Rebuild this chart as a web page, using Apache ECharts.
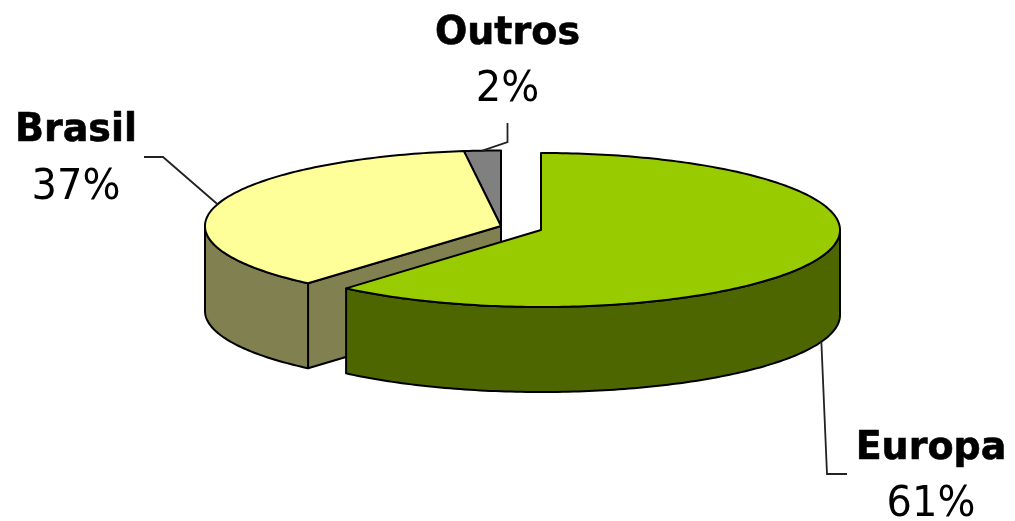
<!DOCTYPE html>
<html>
<head>
<meta charset="utf-8">
<style>html,body{margin:0;padding:0;background:#fff}#c{width:1015px;height:521px}</style>
<script src="https://cdn.jsdelivr.net/npm/echarts@6/dist/echarts.min.js"></script>
</head>
<body>
<div id="c"></div>
<script>
// Data (labels round them to 61 / 37 / 2 %)
var categories = ['Europa', 'Brasil', 'Outros'];
var shares = [61.3, 36.7, 2.0];

// Styles
var topColors = ['#99CC00', '#FFFF99', '#808080'];
var sideColors = ['#4D6600', '#808050', '#606060'];

// Pie layout: each slice is exploded from its own centre
var centers = [[541, 230], [501, 226], [501, 226]];
var radii = [[299, 77], [296, 75.5], [296, 75.5]];
var depth = 85;
var labelPos = [[931, 449, 505], [76, 131, 188], [507.5, 34, 90]];
var leaderEnds = [
  [[827, 474], [847, 474]],
  [[163, 157], [144, 157]],
  [[507.5, 142], [507.5, 123]]
];
var drawOrder = [2, 1, 0];

var total = shares.reduce(function (a, b) { return a + b; }, 0);
var starts = [];
shares.reduce(function (acc, v, i) { starts[i] = acc; return acc + v; }, 0);

function rim(i, t, dy) {
  var r = t * Math.PI / 180;
  return [centers[i][0] + radii[i][0] * Math.sin(r),
          centers[i][1] - radii[i][1] * Math.cos(r) + (dy || 0)];
}
function arc(i, a, b, dy) {
  var pts = [];
  var n = Math.max(2, Math.ceil(Math.abs(b - a)));
  for (var k = 0; k <= n; k++) pts.push(rim(i, a + (b - a) * k / n, dy));
  return pts;
}
function poly(points, fill) {
  return { type: 'polygon', shape: { points: points },
    style: { fill: fill, stroke: '#000', lineWidth: 2, lineJoin: 'round' } };
}
function text(x, y, str, weight, size, bold) {
  return { type: 'text', x: x, y: y, scaleY: 1.05,
    style: { text: str, fill: '#000', align: 'center', verticalAlign: 'middle',
      stroke: bold ? '#000' : null, lineWidth: bold ? 0.6 : 0,
      font: weight + ' ' + size + 'px "DejaVu Sans"' } };
}

function renderItem(params, api) {
  var i = api.value(0);
  var a0 = starts[i] / total * 360, a1 = (starts[i] + shares[i]) / total * 360;
  var mid = (a0 + a1) / 2;
  var c = centers[i];
  var kids = [];

  // cut face that looks towards the viewer (start edge when it is on the left-bottom)
  if (a0 > 180 && a0 < 270) {
    var p = rim(i, a0);
    kids.push(poly([c, p, [p[0], p[1] + depth], [c[0], c[1] + depth]], sideColors[i]));
  }
  // outer wall: the part of the rim in the front half
  var s0 = Math.max(a0, 90), s1 = Math.min(a1, 270);
  if (s1 > s0) {
    kids.push(poly(arc(i, s0, s1).concat(arc(i, s1, s0, depth)), sideColors[i]));
  }
  // top face
  kids.push(poly([c].concat(arc(i, a0, a1)), topColors[i]));

  // leader line starts on the visible rim at the slice's middle angle
  var start = rim(i, mid, (mid > 90 && mid < 270 && i === 0) ? depth : 0);
  kids.push({ type: 'polyline', shape: { points: [start].concat(leaderEnds[i]) },
    style: { fill: null, stroke: '#222', lineWidth: 1.8 } });

  kids.push(text(labelPos[i][0], labelPos[i][1], categories[i], 'bold', 38, true));
  kids.push(text(labelPos[i][0], labelPos[i][2], Math.round(shares[i]) + '%', 'normal', 40, false));
  return { type: 'group', children: kids };
}

var chart = echarts.init(document.getElementById('c'), null, { renderer: 'canvas' });
chart.setOption({
  animation: false,
  backgroundColor: '#fff',
  series: [{
    type: 'custom',
    coordinateSystem: 'none',
    renderItem: renderItem,
    data: drawOrder.map(function (i) { return [i, shares[i], categories[i]]; })
  }]
});
</script>
</body>
</html>
